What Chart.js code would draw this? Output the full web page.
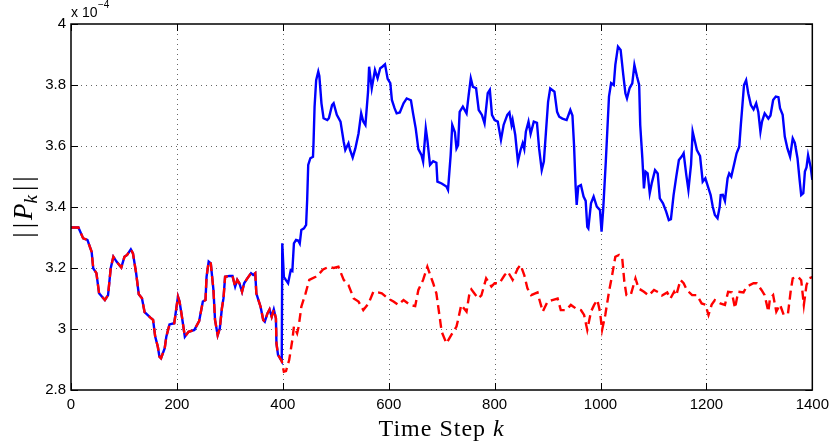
<!DOCTYPE html>
<html><head><meta charset="utf-8">
<script src="https://cdn.jsdelivr.net/npm/chart.js@4/dist/chart.umd.min.js"></script>
<style>html,body{margin:0;padding:0;background:#fff}#wrap{width:835px;height:444px;position:relative}</style>
</head><body><div id="wrap"><canvas id="c" width="835" height="444"></canvas></div>
<script>
// Shared segment (both series coincide up to k≈398), values in units of 1e-4
const sharedSteps = [0,14,23,31,39,42,48,53,64,70,75,80,86,95,101,106,113,117,123,128,134,139,150,155,159,164,167,170,177,180,186,195,202,205,209,215,222,233,242,249,254,256,260,264,269,272,277,281,285,288,291,299,305,310,314,318,323,327,333,340,344,348,350,354,358,363,366,371,375,379,383,387,388,391,395,398];
const sharedNorm = [3.333,3.333,3.297,3.292,3.253,3.199,3.183,3.117,3.095,3.111,3.199,3.237,3.221,3.202,3.237,3.243,3.261,3.248,3.183,3.114,3.101,3.055,3.037,3.030,2.975,2.942,2.909,2.904,2.937,2.975,3.015,3.019,3.106,3.090,3.046,2.975,2.991,2.997,3.026,3.090,3.095,3.171,3.221,3.215,3.128,3.030,2.980,3.002,3.068,3.101,3.171,3.174,3.174,3.139,3.161,3.150,3.122,3.150,3.166,3.183,3.177,3.183,3.117,3.095,3.073,3.030,3.024,3.051,3.064,3.040,3.064,3.035,2.953,2.915,2.904,2.895];

// Blue (solid) continuation
const blueSteps = [399,402,406,410,415,418,421,425,429,432,435,440,444,446,448,452,457,458,460,463,467,469,473,477,484,487,493,496,502,509,515,518,524,527,532,537,543,548,552,556,561,563,568,574,579,584,588,593,598,603,606,611,615,621,628,634,642,646,651,656,662,665,670,673,678,684,690,692,700,709,712,717,720,725,728,731,734,740,747,751,755,759,765,770,776,781,787,791,795,800,806,812,817,824,828,832,834,839,844,849,853,856,859,864,868,874,880,884,889,893,897,901,905,913,918,922,928,936,943,947,950,953,955,958,963,968,972,975,977,982,987,993,999,1002,1005,1010,1016,1020,1025,1028,1033,1038,1043,1047,1050,1055,1060,1064,1069,1073,1075,1079,1082,1085,1089,1093,1097,1103,1108,1112,1118,1124,1129,1133,1138,1143,1148,1154,1157,1162,1166,1171,1174,1179,1182,1188,1193,1198,1204,1208,1212,1216,1221,1225,1227,1231,1235,1240,1243,1247,1252,1257,1262,1265,1268,1271,1275,1279,1284,1289,1294,1298,1302,1305,1310,1317,1321,1326,1331,1336,1339,1344,1348,1353,1358,1363,1367,1372,1376,1379,1383,1386,1389,1392,1397,1400];
const blueNorm = [3.281,3.171,3.160,3.150,3.193,3.190,3.281,3.292,3.290,3.280,3.325,3.330,3.341,3.423,3.538,3.560,3.565,3.609,3.729,3.816,3.844,3.830,3.740,3.691,3.685,3.691,3.734,3.740,3.702,3.680,3.614,3.587,3.609,3.587,3.562,3.592,3.641,3.707,3.680,3.669,3.778,3.860,3.789,3.849,3.822,3.855,3.860,3.868,3.820,3.806,3.751,3.724,3.707,3.710,3.740,3.756,3.750,3.707,3.658,3.590,3.570,3.549,3.658,3.620,3.538,3.550,3.545,3.483,3.477,3.467,3.456,3.570,3.669,3.645,3.592,3.603,3.712,3.729,3.707,3.767,3.822,3.794,3.790,3.718,3.702,3.674,3.773,3.784,3.702,3.685,3.680,3.620,3.669,3.702,3.710,3.669,3.685,3.636,3.549,3.587,3.609,3.590,3.647,3.680,3.640,3.680,3.676,3.592,3.521,3.549,3.647,3.745,3.789,3.778,3.712,3.696,3.690,3.685,3.718,3.700,3.603,3.467,3.407,3.467,3.472,3.434,3.420,3.335,3.330,3.412,3.434,3.401,3.390,3.319,3.390,3.549,3.762,3.806,3.800,3.866,3.926,3.915,3.833,3.773,3.756,3.790,3.805,3.866,3.827,3.800,3.669,3.560,3.461,3.516,3.510,3.445,3.480,3.521,3.510,3.428,3.412,3.385,3.357,3.360,3.439,3.499,3.554,3.567,3.576,3.505,3.456,3.540,3.647,3.610,3.587,3.567,3.483,3.494,3.461,3.439,3.401,3.374,3.363,3.400,3.439,3.440,3.420,3.494,3.510,3.500,3.538,3.576,3.598,3.669,3.734,3.800,3.816,3.773,3.734,3.720,3.740,3.712,3.647,3.680,3.707,3.690,3.700,3.751,3.762,3.760,3.724,3.702,3.631,3.592,3.565,3.625,3.610,3.560,3.489,3.439,3.445,3.516,3.530,3.570,3.530,3.489];

// Red (dashed) continuation
const redSteps = [402,406,412,418,421,427,430,435,443,450,462,468,476,487,496,505,515,524,534,543,552,562,571,580,587,599,609,618,628,640,650,656,665,673,684,690,697,700,709,718,728,731,737,747,753,756,769,775,784,794,800,809,819,825,834,844,849,856,862,869,881,884,891,900,909,919,925,935,944,953,963,969,975,982,988,994,999,1003,1009,1016,1022,1028,1035,1041,1045,1049,1057,1066,1072,1082,1091,1101,1110,1116,1126,1132,1139,1143,1151,1157,1163,1173,1182,1191,1198,1204,1210,1216,1226,1235,1241,1248,1254,1260,1270,1276,1289,1295,1304,1310,1317,1320,1326,1332,1339,1346,1354,1359,1363,1373,1379,1384,1389,1394,1400];
const redNorm = [2.860,2.862,2.898,2.964,3.008,2.986,3.008,3.073,3.117,3.161,3.171,3.180,3.195,3.204,3.200,3.204,3.161,3.144,3.100,3.090,3.062,3.084,3.122,3.120,3.117,3.100,3.090,3.079,3.095,3.079,3.075,3.128,3.161,3.204,3.150,3.117,3.030,2.991,2.953,2.980,3.008,3.030,3.079,3.057,3.122,3.130,3.100,3.110,3.166,3.139,3.150,3.150,3.177,3.188,3.161,3.199,3.210,3.177,3.133,3.111,3.120,3.100,3.057,3.090,3.095,3.100,3.062,3.062,3.079,3.068,3.062,3.046,2.997,3.057,3.079,3.095,3.057,2.997,3.046,3.122,3.177,3.237,3.243,3.232,3.155,3.111,3.111,3.166,3.133,3.122,3.110,3.128,3.120,3.110,3.120,3.100,3.122,3.110,3.161,3.150,3.128,3.111,3.111,3.084,3.080,3.046,3.080,3.095,3.084,3.079,3.122,3.120,3.068,3.122,3.120,3.139,3.150,3.150,3.128,3.111,3.057,3.100,3.111,3.057,3.080,3.046,3.050,3.122,3.166,3.171,3.160,3.079,3.144,3.166,3.170];

const xTicks = [0,200,400,600,800,1000,1200,1400];
const yTicks = [2.8,3,3.2,3.4,3.6,3.8,4];

const SANS = '"Liberation Sans", Arial, Helvetica, sans-serif';
const SERIF = '"Liberation Serif", "Times New Roman", serif';

function toPoints(xs, ys){ return xs.map((x,i)=>({x:x, y:ys[i]})); }
const blueData = toPoints(sharedSteps.concat(blueSteps), sharedNorm.concat(blueNorm));
const redData  = toPoints(sharedSteps.concat(redSteps),  sharedNorm.concat(redNorm));

function drawSegments(ctx, segs, cx, baseline){
  let total = 0;
  for (const s of segs){ ctx.font = s.font; s.w = ctx.measureText(s.t).width + (s.gap||0); total += s.w; }
  let x = cx - total/2;
  for (const s of segs){ ctx.font = s.font; ctx.fillText(s.t, x, baseline + (s.dy||0)); x += s.w; }
}

const framePlugin = {
  id: 'matlabFrame',
  beforeDatasetsDraw(chart){
    const {ctx, chartArea:a, scales:{x, y}} = chart;
    ctx.save();
    ctx.strokeStyle = 'rgba(0,0,0,0.6)';
    ctx.lineWidth = 1;
    ctx.setLineDash([1,4]);
    ctx.beginPath();
    for (const v of xTicks){
      if (v === xTicks[0] || v === xTicks[xTicks.length-1]) continue;
      const px = Math.round(x.getPixelForValue(v)) + 0.5;
      ctx.moveTo(px, a.bottom); ctx.lineTo(px, a.top);
    }
    for (const v of yTicks){
      if (v === yTicks[0] || v === yTicks[yTicks.length-1]) continue;
      const py = Math.round(y.getPixelForValue(v)) + 0.5;
      ctx.moveTo(a.left, py); ctx.lineTo(a.right, py);
    }
    ctx.stroke();
    ctx.restore();
  },
  afterDatasetsDraw(chart){
    const {ctx, chartArea:a, scales:{x, y}} = chart;
    ctx.save();
    ctx.strokeStyle = '#000';
    ctx.lineWidth = 1.5;
    ctx.setLineDash([]);
    ctx.strokeRect(a.left, a.top, a.right - a.left, a.bottom - a.top);
    const TL = 7;
    ctx.lineWidth = 1;
    ctx.beginPath();
    for (const v of xTicks){
      const px = Math.round(x.getPixelForValue(v)) + 0.5;
      ctx.moveTo(px, a.bottom); ctx.lineTo(px, a.bottom - TL);
      ctx.moveTo(px, a.top); ctx.lineTo(px, a.top + TL);
    }
    for (const v of yTicks){
      const py = Math.round(y.getPixelForValue(v)) + 0.5;
      ctx.moveTo(a.left, py); ctx.lineTo(a.left + TL, py);
      ctx.moveTo(a.right, py); ctx.lineTo(a.right - TL, py);
    }
    ctx.stroke();
    ctx.restore();
  },
  afterDraw(chart){
    const {ctx, chartArea:a} = chart;
    ctx.save();
    ctx.fillStyle = '#000';
    ctx.textBaseline = 'alphabetic';
    ctx.textAlign = 'left';
    ctx.font = '14px ' + SANS;
    ctx.fillText('x 10', a.left, 17);
    const w10 = ctx.measureText('x 10').width;
    ctx.font = '10px ' + SANS;
    ctx.fillText('\u22124', a.left + w10 + 0.5, 8);
    ctx.letterSpacing = '1px';
    drawSegments(ctx, [
      {t:'Time Step ', font:'24px ' + SERIF},
      {t:'k', font:'italic 24px ' + SERIF}
    ], (a.left + a.right)/2, 436);
    ctx.translate(23, (a.top + a.bottom)/2);
    ctx.rotate(-Math.PI/2);
    ctx.letterSpacing = '0px';
    drawSegments(ctx, [
      {t:'|', font:'27px ' + SERIF, gap:4},
      {t:'|', font:'27px ' + SERIF, gap:3},
      {t:'P', font:'italic 27px ' + SERIF},
      {t:'k', font:'italic 19px ' + SERIF, dy:5, gap:4},
      {t:'|', font:'27px ' + SERIF, gap:4},
      {t:'|', font:'27px ' + SERIF}
    ], 0, 9);
    ctx.restore();
  }
};

new Chart(document.getElementById('c'), {
  type: 'line',
  data: {
    datasets: [
      {label:'red', data: redData, borderColor:'#ff0000', borderWidth:2.4, borderDash:[9,5],
       pointRadius:0, fill:false, tension:0, order:0},
      {label:'blue', data: blueData, borderColor:'#0000ff', borderWidth:2.4,
       pointRadius:0, fill:false, tension:0, order:1}
    ]
  },
  options: {
    responsive:false, animation:false, devicePixelRatio:1,
    layout:{padding:{left:0, right:19, top:24, bottom:0}},
    plugins:{legend:{display:false}, tooltip:{enabled:false}},
    scales:{
      x:{type:'linear', min:0, max:1400,
         afterBuildTicks(s){ s.ticks = xTicks.map(v=>({value:v})); },
         afterFit(s){ s.height = 54; },
         ticks:{font:{family:SANS, size:15}, color:'#000', padding:6, maxRotation:0, autoSkip:false,
                callback:(v)=>String(v)},
         grid:{display:false, drawTicks:false}, border:{display:false}},
      y:{type:'linear', min:2.8, max:4,
         afterBuildTicks(s){ s.ticks = yTicks.map(v=>({value:v})); },
         afterFit(s){ s.width = 71; },
         ticks:{font:{family:SANS, size:15}, color:'#000', padding:5, autoSkip:false,
                callback:(v)=>String(v)},
         grid:{display:false, drawTicks:false}, border:{display:false}}
    }
  },
  plugins:[framePlugin]
});
</script>
</body></html>
